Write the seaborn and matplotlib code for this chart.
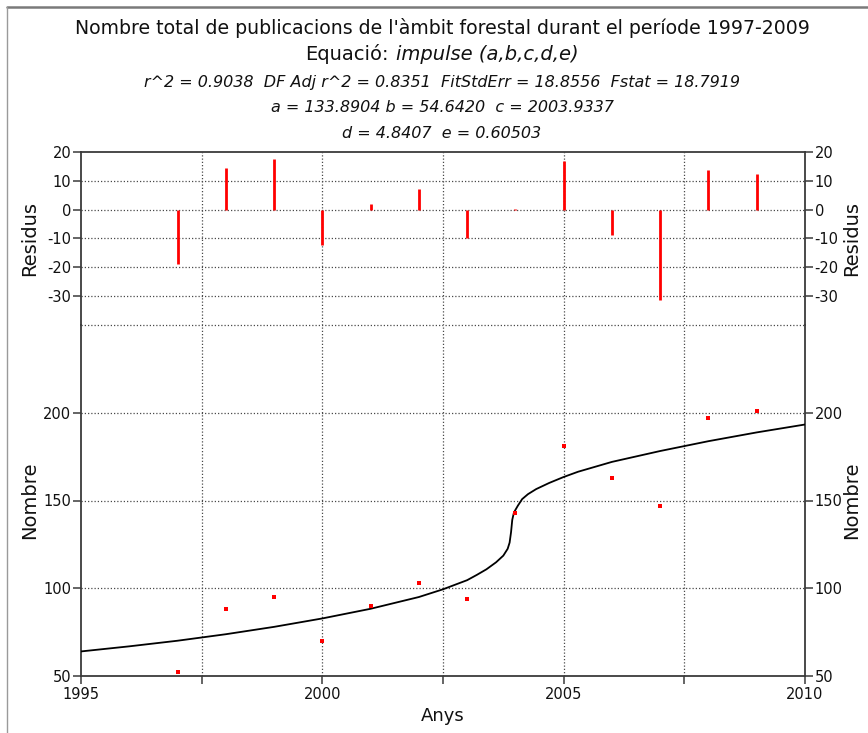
import matplotlib
matplotlib.use("Agg")
import matplotlib.pyplot as plt
import seaborn as sns
import pandas as pd
from matplotlib.lines import Line2D

# ---------------- data ----------------
years = [1997, 1998, 1999, 2000, 2001, 2002, 2003, 2004, 2005, 2006, 2007, 2008, 2009]
counts = [52, 88, 95, 70, 90, 103, 94, 143, 181, 163, 147, 197, 201]
residuals = [-18.7, 14.6, 17.7, -12.2, 2.0, 7.2, -9.9, 0.4, 16.8, -8.7, -31.5, 13.9, 12.2]

fit_years = [1995.0, 1996.0, 1997.0, 1998.0, 1999.0, 2000.0, 2001.0,
             2002.0, 2002.5, 2003.0, 2003.2, 2003.4, 2003.6, 2003.75, 2003.84,
             2003.88, 2003.91, 2003.935, 2003.97, 2004.05, 2004.14, 2004.26, 2004.43,
             2004.70, 2005.0, 2005.3, 2006.0, 2007.0, 2008.0, 2009.0, 2010.0]
fit_values = [64.0, 66.9, 70.1, 73.8, 78.0, 82.8, 88.3,
              95.0, 99.4, 104.6, 107.6, 110.8, 114.8, 118.6, 122.5,
              126.0, 132.0, 139.0, 143.2, 147.0, 150.8, 153.6, 156.5,
              160.0, 163.4, 166.4, 172.0, 178.2, 183.8, 188.8, 193.3]

x_major = [1995, 2000, 2005, 2010]
x_minor = [1997.5, 2002.5, 2007.5]
x_grid = [1997.5, 2000, 2002.5, 2005, 2007.5]
res_ticks = [20, 10, 0, -10, -20, -30]
res_grid = [10, 0, -10, -20, -30]
count_ticks = [50, 100, 150, 200]
count_grid = [100, 150, 200, 250]

title_main = "Nombre total de publicacions de l'àmbit forestal durant el període 1997-2009"
eq_label = "Equació:"
eq_name = "impulse (a,b,c,d,e)"
stat_lines = ["r^2 = 0.9038  DF Adj r^2 = 0.8351  FitStdErr = 18.8556  Fstat = 18.7919",
              "a = 133.8904 b = 54.6420  c = 2003.9337",
              "d = 4.8407  e = 0.60503"]
x_label = "Anys"
res_label = "Residus"
count_label = "Nombre"

# ---------------- style ----------------
sns.set_style("white")
plt.rcParams['font.family'] = ['DejaVu Sans']
plt.rcParams['axes.unicode_minus'] = False

W, H = 868, 733
fig = plt.figure(figsize=(W / 100, H / 100), dpi=100)
fig.patch.set_facecolor('white')


def fx(px):
    return px / W


def fy(py):
    return 1 - py / H


L, R = 81, 805
T1, B1, B2 = 152, 325, 676
ax_r = fig.add_axes([fx(L), fy(B1), (R - L) / W, (B1 - T1) / H])
ax_n = fig.add_axes([fx(L), fy(B2), (R - L) / W, (B2 - B1) / H])

spine_col = '#3a3a3a'
grid_col = '#4a4a4a'
grid_ls = (0, (1, 1.6))
tick_fs = 10.5
txt_col = '#111111'

df_pts = pd.DataFrame({'Anys': years, 'Nombre': counts, 'Residus': residuals})
df_fit = pd.DataFrame({'Anys': fit_years, 'Nombre': fit_values})

# residual panel
for xv in x_grid:
    ax_r.axvline(xv, color=grid_col, ls=grid_ls, lw=0.9, zorder=1)
for yv in res_grid:
    ax_r.axhline(yv, color=grid_col, ls=grid_ls, lw=0.9, zorder=1)
ax_r.vlines(df_pts['Anys'], 0, df_pts['Residus'], colors='#ff0000', lw=2.0, zorder=3)
ax_r.set_xlim(1995, 2010)
ax_r.set_ylim(-40, 20)
ax_r.set_yticks(res_ticks)
ax_r.set_yticklabels([str(v) for v in res_ticks])
ax_r.set_xticks([])
ax_r.spines['bottom'].set_visible(False)

# count panel
for xv in x_grid:
    ax_n.axvline(xv, color=grid_col, ls=grid_ls, lw=0.9, zorder=1)
for yv in count_grid:
    ax_n.axhline(yv, color=grid_col, ls=grid_ls, lw=0.9, zorder=1, clip_on=False)
sns.lineplot(data=df_fit, x='Anys', y='Nombre', ax=ax_n, color='black', lw=1.3,
             estimator=None, sort=False, zorder=3)
sns.scatterplot(data=df_pts, x='Anys', y='Nombre', ax=ax_n, color='#ff0000', marker='s',
                s=6, linewidth=0, zorder=4)
ax_n.set_xlim(1995, 2010)
ax_n.set_ylim(50, 250)
ax_n.set_yticks(count_ticks)
ax_n.set_yticklabels([str(v) for v in count_ticks])
ax_n.set_xticks(x_major)
ax_n.set_xticklabels([str(v) for v in x_major])
ax_n.set_xticks(x_minor, minor=True)
ax_n.spines['top'].set_visible(False)
ax_n.set_xlabel('')
ax_n.set_ylabel('')

for ax in (ax_r, ax_n):
    for s in ax.spines.values():
        s.set_color(spine_col)
        s.set_linewidth(1.3)
    ax.tick_params(axis='y', which='both', direction='out', length=6, width=1.1,
                   color=spine_col, left=True, right=True, labelleft=True,
                   labelright=True, labelsize=tick_fs, pad=1, labelcolor=txt_col)
    ax.set_facecolor('white')
ax_n.tick_params(axis='x', which='both', direction='out', length=6, width=1.1,
                 color=spine_col, bottom=True, labelsize=tick_fs, pad=2,
                 labelcolor=txt_col)

# axis labels
for xpos in (30, 852):
    fig.text(fx(xpos), fy((T1 + B1) / 2), res_label, rotation=90, ha='center',
             va='center', fontsize=14, color=txt_col)
    fig.text(fx(xpos), fy((B1 + B2) / 2), count_label, rotation=90, ha='center',
             va='center', fontsize=14, color=txt_col)
fig.text(fx(443), fy(716), x_label, ha='center', va='center', fontsize=13, color=txt_col)

# titles
cx = 442
fig.text(fx(cx), fy(28), title_main, ha='center', va='center', fontsize=13.6, color=txt_col)
renderer = fig.canvas.get_renderer()
ta = fig.text(0, fy(54), eq_label, ha='left', va='center', fontsize=14, color=txt_col)
tb = fig.text(0, fy(54), eq_name, ha='left', va='center', fontsize=14, style='italic',
              color=txt_col)
wa = ta.get_window_extent(renderer).width
wb = tb.get_window_extent(renderer).width
gap = 7
start = cx - (wa + gap + wb) / 2
ta.set_x(fx(start))
tb.set_x(fx(start + wa + gap))
for yy, s in zip([83, 108, 133], stat_lines):
    fig.text(fx(cx), fy(yy), s, ha='center', va='center', fontsize=11.5, style='italic',
             color=txt_col)

# window frame lines
fig.add_artist(Line2D([fx(7), 1], [fy(7), fy(7)], transform=fig.transFigure,
                      color='#7a7a7a', lw=1.8))
fig.add_artist(Line2D([fx(7), fx(7)], [fy(7), 0], transform=fig.transFigure,
                      color='#9a9a9a', lw=1.0))

fig.savefig('out.png', dpi=100, facecolor='white')
